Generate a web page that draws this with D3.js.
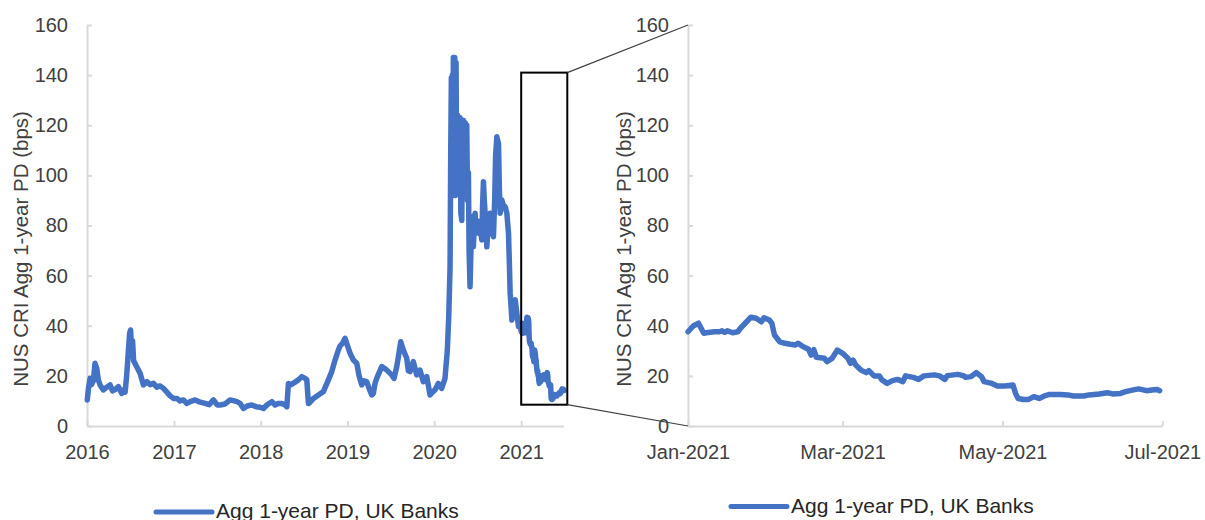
<!DOCTYPE html>
<html><head><meta charset="utf-8">
<script src="https://cdn.jsdelivr.net/npm/d3@7"></script>
<style>
html,body{margin:0;padding:0;background:#fff;}
svg{display:block;font-family:"Liberation Sans",Arial,sans-serif;}
</style></head><body>
<svg id="chart" width="1205" height="520"></svg>
<script>
// ---------- data ----------
const seriesName = "Agg 1-year PD, UK Banks";
const yTitle = "NUS CRI Agg 1-year PD (bps)";
const yTicks = [0, 20, 40, 60, 80, 100, 120, 140, 160];
const leftYearTicks = [2016, 2017, 2018, 2019, 2020, 2021];
const rightMonthTicks = ["2021-01-01", "2021-03-01", "2021-05-01", "2021-07-01"];

// history before 2021 (decimal years) and values in bps
const histYears = [2016.003,2016.017,2016.035,2016.052,2016.073,2016.092,2016.112,2016.130,2016.150,2016.188,2016.227,2016.265,2016.294,2016.323,2016.361,2016.400,2016.418,2016.438,2016.455,2016.472,2016.490,2016.501,2016.513,2016.524,2016.536,2016.573,2016.611,2016.649,2016.688,2016.726,2016.764,2016.803,2016.841,2016.879,2016.918,2016.956,2016.994,
2017.033,2017.071,2017.109,2017.149,2017.187,2017.244,2017.302,2017.359,2017.406,2017.455,2017.498,2017.532,2017.590,2017.647,2017.694,2017.725,2017.763,2017.801,2017.843,2017.897,2017.947,2017.993,
2018.031,2018.074,2018.128,2018.166,2018.200,2018.243,2018.281,2018.301,2018.319,2018.350,2018.396,2018.434,2018.473,2018.512,2018.531,2018.550,2018.569,2018.608,2018.665,2018.722,2018.780,2018.819,2018.857,2018.892,2018.915,2018.943,2018.972,
2019.001,2019.030,2019.068,2019.107,2019.134,2019.165,2019.191,2019.222,2019.249,2019.280,2019.298,2019.318,2019.337,2019.395,2019.453,2019.510,2019.537,2019.568,2019.589,2019.614,2019.644,2019.683,2019.702,2019.721,2019.759,2019.798,2019.836,2019.874,2019.914,2019.952,2019.980,
2020.009,2020.047,2020.086,2020.124,2020.151,2020.167,2020.182,2020.190,2020.197,2020.203,2020.209,2020.214,2020.220,2020.228,2020.236,2020.243,2020.251,2020.259,2020.268,2020.278,2020.286,2020.297,2020.306,2020.317,2020.326,2020.335,2020.343,2020.355,2020.364,2020.374,2020.383,2020.393,2020.401,2020.412,2020.422,2020.432,2020.441,2020.450,2020.461,2020.470,2020.482,2020.493,2020.508,2020.528,2020.547,2020.556,2020.566,2020.576,2020.585,2020.597,2020.605,2020.620,2020.643,2020.662,2020.681,2020.695,2020.706,2020.720,2020.729,2020.739,2020.749,2020.758,2020.777,2020.796,2020.816,2020.835,2020.854,2020.864,2020.873,2020.885,2020.893,2020.908,2020.931,2020.950,2020.969,2020.988];
const histValues = [10.4,15,19,16.5,18,25,23,18.4,16.4,14.4,15.5,16.4,14,14.5,15.7,13,14.4,13.5,19.7,28,37,38.3,30,34,26,23.5,21,16.4,17.7,16.5,17,15.5,16,15,13.5,12,11,
11,10,10.4,9,9.7,10.4,9.5,9,8.5,10.4,8.4,8.4,8.8,10.4,10,9.7,9,7,8,8.4,7.7,7.5,
7,8.5,9.7,8.4,9,9,8.4,7.7,17,16.5,17.5,18.4,19.7,19,18.4,9,9.5,11,12.4,13.7,18.4,21.7,26.3,30,32,33,35,
32,29,26.3,25,20,16.4,18,17.7,15,12.4,13,17,19,23.7,22.3,20.4,19,23.7,28,33.6,30.3,27,22,21.7,25.7,20.4,22.3,17.7,19.7,12.4,13.5,
14.4,17,15,19,30.3,43.6,63,110,139,95,140,92,147,100,147,92,145,95,124,93,120,123,85,82,118,122,95,121,108,120,90,101,70,55.6,70,83.5,75,71.5,80,84.9,78,82,76.9,80,74.2,88,97.5,90,84.9,78,71.5,80,84.9,78,75.5,90,108,115.4,114,112.8,95,84.9,90.2,88,87.5,84.9,76.9,65,53,47,42.3,49,50.3,45,39.6,41];

// 2021 readings (shared by both panels)
const zoomDates = ["2021-01-01","2021-01-03","2021-01-05","2021-01-06","2021-01-07","2021-01-08","2021-01-11","2021-01-13","2021-01-14","2021-01-15","2021-01-16","2021-01-18","2021-01-20","2021-01-21","2021-01-23","2021-01-25","2021-01-27","2021-01-29","2021-01-30",
"2021-02-01","2021-02-02","2021-02-03","2021-02-05","2021-02-07","2021-02-09","2021-02-11","2021-02-12","2021-02-14","2021-02-16","2021-02-17","2021-02-18","2021-02-19","2021-02-22","2021-02-23","2021-02-25","2021-02-27",
"2021-03-01","2021-03-03","2021-03-04","2021-03-05","2021-03-06","2021-03-08","2021-03-10","2021-03-11","2021-03-13","2021-03-15","2021-03-16","2021-03-18","2021-03-20","2021-03-22","2021-03-24","2021-03-25","2021-03-28","2021-03-30",
"2021-04-01","2021-04-05","2021-04-07","2021-04-09","2021-04-10","2021-04-14","2021-04-16","2021-04-17","2021-04-19","2021-04-21","2021-04-23","2021-04-24","2021-04-27","2021-04-29",
"2021-05-02","2021-05-05","2021-05-06","2021-05-07","2021-05-09","2021-05-11","2021-05-13","2021-05-15","2021-05-17","2021-05-19","2021-05-23","2021-05-26","2021-05-28",
"2021-06-01","2021-06-03","2021-06-07","2021-06-10","2021-06-12","2021-06-15","2021-06-17","2021-06-20","2021-06-22","2021-06-25","2021-06-27","2021-06-29","2021-06-30"];
const zoomValues = [37.6,39.9,41,39,37,37.2,37.6,37.6,38,37.4,38,37.2,37.6,39,41.2,43.4,43,41.6,43.2,
42.3,41,36.3,33.6,33,32.6,32.3,33,31.6,30.6,28.3,30.5,27.4,27,25.7,27,30.3,
29,27,25,26.3,24.3,22.3,21.3,22.1,20,20,18.4,17,18.1,18.6,17.7,20,19.4,18.6,
20,20.4,20,18.6,20.1,20.6,20.1,19.4,19.7,21.3,19.7,17.7,17,16,
16,16.4,13,11,10.6,10.6,11.7,11,12,12.6,12.6,12.4,12,
12,12.4,12.8,13.3,12.8,13,13.7,14.4,14.8,14.1,14.4,14.6,14.1];

// zoom-window annotation (in data units)
const windowDates = ["2021-01-01", "2021-07-14"];
const windowValues = [8.5, 141];
const leftDomainDates = ["2016-01-01", "2021-06-28"];
const rightDomainDates = ["2021-01-01", "2021-07-01"];

// ---------- helpers ----------
const parse = d3.timeParse("%Y-%m-%d");
function decYear(v) {
  const yr = Math.floor(v);
  const s = new Date(yr, 0, 1).getTime(), e = new Date(yr + 1, 0, 1).getTime();
  return new Date(s + (v - yr) * (e - s));
}
const zoomData = zoomDates.map((d, i) => ({date: parse(d), v: zoomValues[i]}));
const fullData = histYears.map((v, i) => ({date: decYear(v), v: histValues[i]})).concat(zoomData);

const svg = d3.select("#chart");
const BLUE = "#4472C4", AXIS = "#d9d9d9", TEXT = "#404040";
const plotTop = 25, plotBottom = 426;

const yS = d3.scaleLinear().domain([0, 160]).range([plotBottom, plotTop]);
const xL = d3.scaleTime().domain(leftDomainDates.map(parse)).range([87, 563.5]);
const xR = d3.scaleTime().domain(rightDomainDates.map(parse)).range([688, 1162.3]);

function styleAxis(g) {
  g.select(".domain").attr("stroke", AXIS).attr("stroke-width", 2);
  g.selectAll(".tick line").attr("stroke", AXIS).attr("stroke-width", 2);
  g.selectAll(".tick text").attr("fill", TEXT).attr("font-size", 20)
    .attr("font-family", "'Liberation Sans', Arial, sans-serif");
}

function panel(x, xTickVals, fmt, data, titleX) {
  const x0 = x.range()[0];
  const ga = svg.append("g").attr("transform", `translate(${x0},0)`)
    .call(d3.axisLeft(yS).tickValues(yTicks).tickSizeInner(-5).tickSizeOuter(0).tickPadding(19));
  styleAxis(ga);
  const gx = svg.append("g").attr("transform", `translate(0,${plotBottom})`)
    .call(d3.axisBottom(x).tickValues(xTickVals).tickFormat(fmt).tickSizeInner(-5).tickSizeOuter(0).tickPadding(19));
  styleAxis(gx);
  svg.append("text").attr("transform", `translate(${titleX},249) rotate(-90)`)
    .attr("text-anchor", "middle").attr("font-size", 20.5).attr("fill", TEXT).text(yTitle);
  const line = d3.line().x(d => x(d.date)).y(d => yS(d.v));
  svg.append("path").datum(data).attr("d", line).attr("fill", "none")
    .attr("stroke", BLUE).attr("stroke-width", 5.5).attr("stroke-linejoin", "round").attr("stroke-linecap", "round");
}

panel(xL, leftYearTicks.map(yr => new Date(yr, 0, 1)), d3.timeFormat("%Y"), fullData, 28);
panel(xR, rightMonthTicks.map(parse), d3.timeFormat("%b-%Y"), zoomData, 631);

// zoom window rectangle on left panel
const wx0 = xL(parse(windowDates[0])), wx1 = xL(parse(windowDates[1]));
const wy0 = yS(windowValues[1]), wy1 = yS(windowValues[0]);
svg.append("rect").attr("x", wx0).attr("y", wy0).attr("width", wx1 - wx0).attr("height", wy1 - wy0)
  .attr("fill", "none").attr("stroke", "#000").attr("stroke-width", 2);
const rx0 = xR.range()[0];
svg.append("line").attr("x1", wx1).attr("y1", wy0).attr("x2", rx0).attr("y2", yS(160))
  .attr("stroke", "#404040").attr("stroke-width", 1.2);
svg.append("line").attr("x1", wx1).attr("y1", wy1).attr("x2", rx0).attr("y2", yS(0))
  .attr("stroke", "#404040").attr("stroke-width", 1.2);

// legends
function legend(xs, yl, ybase) {
  svg.append("line").attr("x1", xs).attr("x2", xs + 56).attr("y1", yl).attr("y2", yl)
    .attr("stroke", BLUE).attr("stroke-width", 5).attr("stroke-linecap", "round");
  svg.append("text").attr("x", xs + 60).attr("y", ybase).attr("font-size", 21)
    .attr("fill", "#262626").text(seriesName);
}
legend(156, 512, 518);
legend(731, 506.5, 513);
</script>
</body></html>
